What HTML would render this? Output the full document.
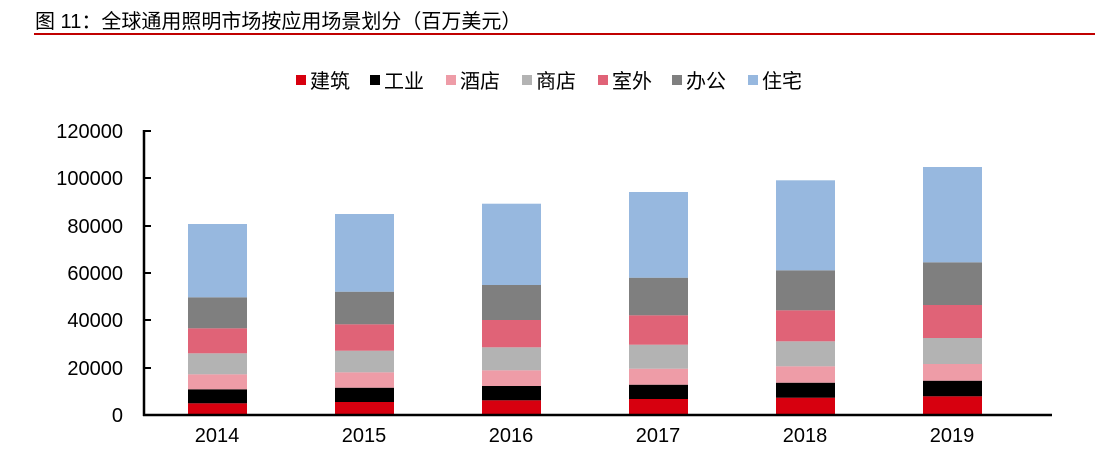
<!DOCTYPE html>
<html><head><meta charset="utf-8"><style>
body{margin:0;background:#fff;}
svg{display:block;font-family:"Liberation Sans","Noto Sans CJK SC",sans-serif;}
</style></head><body>
<svg width="1095" height="471" xmlns="http://www.w3.org/2000/svg">
<text x="35" y="28" font-size="20" fill="#000">图 11：全球通用照明市场按应用场景划分（百万美元）</text>
<rect x="34" y="33" width="1061" height="2" fill="#c00000"/>
<g font-size="20" fill="#000">
<rect x="296" y="75" width="10" height="10" fill="#d7000f"/><text x="310" y="88">建筑</text>
<rect x="370" y="75" width="10" height="10" fill="#000"/><text x="384" y="88">工业</text>
<rect x="446" y="75" width="10" height="10" fill="#ee9ca7"/><text x="460" y="88">酒店</text>
<rect x="522" y="75" width="10" height="10" fill="#b3b3b3"/><text x="536" y="88">商店</text>
<rect x="598" y="75" width="10" height="10" fill="#e06377"/><text x="612" y="88">室外</text>
<rect x="672" y="75" width="10" height="10" fill="#7f7f7f"/><text x="686" y="88">办公</text>
<rect x="748" y="75" width="10" height="10" fill="#97b8df"/><text x="762" y="88">住宅</text>
</g>
<g font-size="20" fill="#000" text-anchor="end">
<text x="123" y="138">120000</text><text x="123" y="185">100000</text><text x="123" y="233">80000</text>
<text x="123" y="280">60000</text><text x="123" y="327">40000</text><text x="123" y="375">20000</text><text x="123" y="422">0</text>
</g>
<g>
<rect x="188" y="403.3" width="59" height="11.7" fill="#d7000f"/><rect x="188" y="389.3" width="59" height="14" fill="#000"/><rect x="188" y="374.3" width="59" height="15" fill="#ee9ca7"/><rect x="188" y="353.3" width="59" height="21" fill="#b3b3b3"/><rect x="188" y="328.3" width="59" height="25" fill="#e06377"/><rect x="188" y="297.3" width="59" height="31" fill="#7f7f7f"/><rect x="188" y="224" width="59" height="73.3" fill="#97b8df"/>
<rect x="335" y="402" width="59" height="13" fill="#d7000f"/><rect x="335" y="387.7" width="59" height="14.3" fill="#000"/><rect x="335" y="372.3" width="59" height="15.4" fill="#ee9ca7"/><rect x="335" y="350.7" width="59" height="21.6" fill="#b3b3b3"/><rect x="335" y="324.3" width="59" height="26.4" fill="#e06377"/><rect x="335" y="291.7" width="59" height="32.6" fill="#7f7f7f"/><rect x="335" y="214" width="59" height="77.7" fill="#97b8df"/>
<rect x="482" y="400.3" width="59" height="14.7" fill="#d7000f"/><rect x="482" y="386" width="59" height="14.3" fill="#000"/><rect x="482" y="370.3" width="59" height="15.7" fill="#ee9ca7"/><rect x="482" y="347.3" width="59" height="23" fill="#b3b3b3"/><rect x="482" y="320" width="59" height="27.3" fill="#e06377"/><rect x="482" y="285" width="59" height="35" fill="#7f7f7f"/><rect x="482" y="203.7" width="59" height="81.3" fill="#97b8df"/>
<rect x="629" y="399" width="59" height="16" fill="#d7000f"/><rect x="629" y="384.7" width="59" height="14.3" fill="#000"/><rect x="629" y="368.7" width="59" height="16" fill="#ee9ca7"/><rect x="629" y="344.7" width="59" height="24" fill="#b3b3b3"/><rect x="629" y="315.3" width="59" height="29.4" fill="#e06377"/><rect x="629" y="277.7" width="59" height="37.6" fill="#7f7f7f"/><rect x="629" y="192" width="59" height="85.7" fill="#97b8df"/>
<rect x="776" y="397.7" width="59" height="17.3" fill="#d7000f"/><rect x="776" y="382.7" width="59" height="15" fill="#000"/><rect x="776" y="366.3" width="59" height="16.4" fill="#ee9ca7"/><rect x="776" y="341.3" width="59" height="25" fill="#b3b3b3"/><rect x="776" y="310.3" width="59" height="31" fill="#e06377"/><rect x="776" y="270.3" width="59" height="40" fill="#7f7f7f"/><rect x="776" y="180.3" width="59" height="90" fill="#97b8df"/>
<rect x="923" y="396.3" width="59" height="18.7" fill="#d7000f"/><rect x="923" y="380.7" width="59" height="15.6" fill="#000"/><rect x="923" y="364" width="59" height="16.7" fill="#ee9ca7"/><rect x="923" y="338" width="59" height="26" fill="#b3b3b3"/><rect x="923" y="305" width="59" height="33" fill="#e06377"/><rect x="923" y="262.3" width="59" height="42.7" fill="#7f7f7f"/><rect x="923" y="167" width="59" height="95.3" fill="#97b8df"/>
</g>
<g stroke="#000" stroke-width="2.5">
<line x1="144" y1="130" x2="144" y2="416"/>
<line x1="143" y1="415" x2="1052" y2="415"/>
</g>
<g stroke="#000" stroke-width="2">
<line x1="144" y1="131" x2="151" y2="131"/><line x1="144" y1="178" x2="151" y2="178"/>
<line x1="144" y1="226" x2="151" y2="226"/><line x1="144" y1="273" x2="151" y2="273"/>
<line x1="144" y1="320" x2="151" y2="320"/><line x1="144" y1="368" x2="151" y2="368"/>
</g>
<g font-size="20" fill="#000" text-anchor="middle">
<text x="217" y="442">2014</text><text x="364" y="442">2015</text><text x="511" y="442">2016</text>
<text x="658" y="442">2017</text><text x="805" y="442">2018</text><text x="952" y="442">2019</text>
</g>
</svg>
</body></html>
